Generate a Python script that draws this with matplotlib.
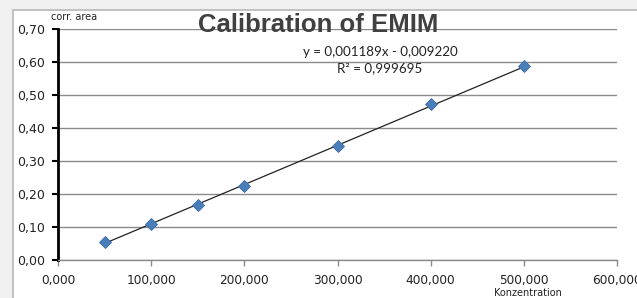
import matplotlib
matplotlib.use("Agg")
import matplotlib.pyplot as plt
from matplotlib.patches import Rectangle

conc = [50, 100, 150, 200, 300, 400, 500]
area = [0.054, 0.110, 0.167, 0.225, 0.346, 0.472, 0.589]
slope = 0.001189
intercept = -0.009220
r2 = 0.999695
x_ticks = [0, 100, 200, 300, 400, 500, 600]
y_ticks = [0.0, 0.1, 0.2, 0.3, 0.4, 0.5, 0.6, 0.7]

fig = plt.figure(figsize=(6.37, 2.98), dpi=100)
fig.patch.set_facecolor("#f0f0f0")
# white chart area with border
fig.patches.append(Rectangle((13/637, -0.1), 1.0, (298-10)/298 + 0.1, transform=fig.transFigure,
                             facecolor="white", edgecolor="#b8b8b8", linewidth=1.2, zorder=-5))

ax = fig.add_axes([58/637, 38/298, (617-58)/637, (260-29)/298])
ax.set_zorder(2)
ax.set_facecolor("none")
ax.set_xlim(0, 600)
ax.set_ylim(0, 0.7)
ax.set_xticks(x_ticks)
ax.set_yticks(y_ticks)
ax.set_xticklabels([f"{v:.3f}".replace(".", ",") for v in x_ticks])
ax.set_yticklabels([f"{v:.2f}".replace(".", ",") for v in y_ticks])
ax.grid(axis="y", color="#8a8a8a", linewidth=1.0)
ax.set_axisbelow(True)
for s in ["top", "right"]:
    ax.spines[s].set_visible(False)
ax.spines["left"].set_color("black")
ax.spines["left"].set_linewidth(2.0)
ax.spines["bottom"].set_color("#8a8a8a")
ax.spines["bottom"].set_linewidth(1.0)
ax.tick_params(axis="y", direction="out", length=4, width=1.5, color="black",
               labelsize=9, labelcolor="#222222", pad=5)
ax.tick_params(axis="x", direction="out", length=4, width=1, color="#8a8a8a",
               labelsize=8.7, labelcolor="#222222", pad=6)
for lab in ax.get_xticklabels() + ax.get_yticklabels():
    lab.set_family("DejaVu Sans")

xl = [min(conc), max(conc)]
ax.plot(xl, [slope * v + intercept for v in xl], color="#222222", linewidth=0.9, zorder=3)
ax.plot(conc, area, linestyle="none", marker="D", markersize=6.3,
        markerfacecolor="#4a7ebb", markeredgecolor="#3a6aa5", markeredgewidth=0.6, zorder=4)

fig.text(318/637, 1 - 25/298, "Calibration of EMIM", ha="center", va="center",
         fontsize=18.5, fontweight="bold", color="#404040", family="Liberation Sans", zorder=5)
fig.text(380/637, 1 - 52/298, f"y = {slope:.6f}x - {abs(intercept):.6f}".replace(".", ","),
         ha="center", va="center", fontsize=9.6, color="#222222", family="Lato", zorder=5)
fig.text(380/637, 1 - 68/298, f"R² = {r2:.6f}".replace(".", ","),
         ha="center", va="center", fontsize=9.6, color="#222222", family="Lato", zorder=5)
fig.text(74/637, 1 - 17/298, "corr. area", ha="center", va="center", fontsize=7,
         color="#222222", family="DejaVu Sans", zorder=5)
fig.text(528/637, 1 - 293/298, "Konzentration", ha="center", va="center", fontsize=7,
         color="#222222", family="DejaVu Sans", zorder=5)

fig.savefig("out.png", dpi=100, facecolor=fig.get_facecolor())
